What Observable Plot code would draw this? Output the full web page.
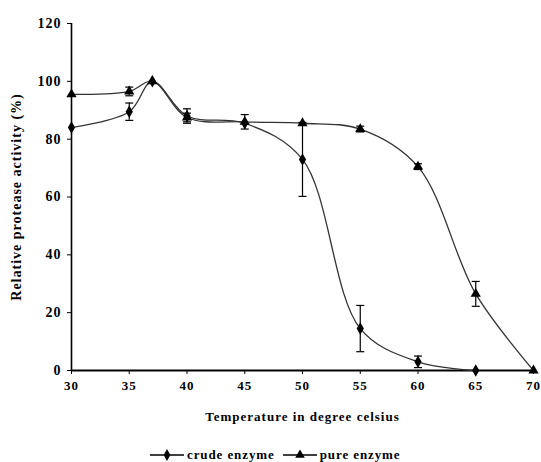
<!DOCTYPE html>
<html>
<head>
<meta charset="utf-8">
<script src="https://cdn.jsdelivr.net/npm/d3@7"></script>
<script src="https://cdn.jsdelivr.net/npm/@observablehq/plot@0.6"></script>
<style>
  html, body { margin: 0; padding: 0; background: #fff; }
  #chart { width: 541px; }
  #chart svg text { letter-spacing: 1px; }
  .legend { display: flex; justify-content: flex-start; align-items: center; height: 22px; margin-top: 14px; padding-left: 150px;
    font-family: "Liberation Serif", serif; font-weight: bold; font-size: 13px; color: #000; letter-spacing: 0.9px; }
  .legend .item { display: flex; align-items: center; margin-right: 8px; }
  .legend svg { margin-right: 3px; }
</style>
</head>
<body>
<div id="chart"></div>
<script>
// ---- data ----
const crudeTemps  = [30, 35, 37, 40, 45, 50, 55, 60, 65];
const crudeValues = [84, 89.5, 100, 88, 85.5, 73, 14.5, 3, 0];
const crudeErrors = [0, 3, 0, 2.5, 0, 12.8, 8, 2, 0];

const pureTemps  = [30, 35, 37, 40, 45, 50, 55, 60, 65, 70];
const pureValues = [95.5, 96.5, 100, 87.5, 86, 85.5, 83.5, 70.5, 26.5, 0];
const pureErrors = [0, 1.5, 0, 1.5, 2.5, 0, 1, 1, 4.3, 0];

const xTicks = [30, 35, 40, 45, 50, 55, 60, 65, 70];
const yTicks = [0, 20, 40, 60, 80, 100, 120];
const seriesNames = ["crude enzyme", "pure enzyme"];

// ---- table ----
const rows = [
  ...crudeTemps.map((t, i) => ({series: seriesNames[0], t, v: crudeValues[i], e: crudeErrors[i]})),
  ...pureTemps.map((t, i) => ({series: seriesNames[1], t, v: pureValues[i], e: pureErrors[i]}))
];
const errRows = rows.filter(d => d.e > 0);
const crudeRows = rows.filter(d => d.series === seriesNames[0]);
const pureRows = rows.filter(d => d.series === seriesNames[1]);

// horizontal cap symbol for error bars
const capSymbol = {
  draw(context, size) {
    const r = Math.sqrt(size / Math.PI);
    context.moveTo(-r, 0);
    context.lineTo(r, 0);
  }
};

const plot = Plot.plot({
  width: 541,
  height: 430,
  marginTop: 23,
  marginBottom: 60,
  marginLeft: 71,
  marginRight: 8,
  style: {fontFamily: "Liberation Serif, serif", fontSize: "12px", fontWeight: "bold", color: "#000", background: "#fff"},
  x: {domain: [30, 70]},
  y: {domain: [0, 120]},
  marks: [
    Plot.axisX({ticks: xTicks, tickSize: 4, tickPadding: 6, tickFormat: d => String(d),
      label: "Temperature in degree celsius", labelAnchor: "center", labelArrow: "none", labelOffset: 50, fontSize: 13}),
    Plot.axisY({ticks: yTicks, tickSize: 4, tickPadding: 6, tickFormat: d => String(d),
      label: "Relative protease activity (%)", labelAnchor: "center", labelArrow: "none", labelOffset: 60, fontSize: 14}),
    Plot.ruleX([30], {stroke: "#000", strokeWidth: 1.6}),
    Plot.ruleY([0], {stroke: "#000", strokeWidth: 1.8}),
    Plot.line(crudeRows, {x: "t", y: "v", curve: "catmull-rom", stroke: "#333", strokeWidth: 1.3}),
    Plot.line(pureRows, {x: "t", y: "v", curve: "catmull-rom", stroke: "#333", strokeWidth: 1.3}),
    Plot.ruleX(errRows, {x: "t", y1: d => d.v - d.e, y2: d => d.v + d.e, stroke: "#000", strokeWidth: 1.2}),
    Plot.dot(errRows, {x: "t", y: d => d.v - d.e, symbol: capSymbol, r: 4, stroke: "#000", strokeWidth: 1.2, fill: "none"}),
    Plot.dot(errRows, {x: "t", y: d => d.v + d.e, symbol: capSymbol, r: 4, stroke: "#000", strokeWidth: 1.2, fill: "none"}),
    Plot.dot(crudeRows, {x: "t", y: "v", symbol: "diamond", r: 3.8, fill: "#000", stroke: "none"}),
    Plot.dot(pureRows, {x: "t", y: "v", symbol: "triangle", r: 3.8, fill: "#000", stroke: "none"})
  ]
});
document.getElementById("chart").appendChild(plot);

// ---- legend (HTML below the SVG) ----
const legend = document.createElement("div");
legend.className = "legend";
const legendSymbols = [d3.symbolDiamond, d3.symbolTriangle];
seriesNames.forEach((name, i) => {
  const item = document.createElement("div");
  item.className = "item";
  const sw = d3.create("svg").attr("width", 34).attr("height", 12);
  sw.append("line").attr("x1", 0).attr("x2", 34).attr("y1", 6).attr("y2", 6).attr("stroke", "#000").attr("stroke-width", 1.5);
  sw.append("path").attr("d", d3.symbol(legendSymbols[i], 40)()).attr("transform", "translate(17,6)").attr("fill", "#000");
  item.appendChild(sw.node());
  const label = document.createElement("span");
  label.textContent = name;
  item.appendChild(label);
  legend.appendChild(item);
});
document.getElementById("chart").appendChild(legend);
</script>
</body>
</html>
